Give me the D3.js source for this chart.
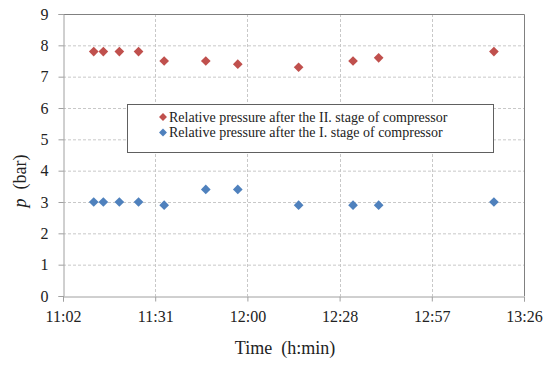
<!DOCTYPE html>
<html><head><meta charset="utf-8">
<script src="https://cdn.jsdelivr.net/npm/d3@7"></script>
<style>body{margin:0;background:#fff}svg{display:block}</style>
</head><body>
<svg id="c" width="550" height="367" font-family="Liberation Serif"></svg>
<script>
const times = ["11:12","11:15","11:20","11:26","11:34","11:47","11:57","12:16","12:33","12:41","13:17"];
const stage2 = [7.8,7.8,7.8,7.8,7.5,7.5,7.4,7.3,7.5,7.6,7.8];
const stage1 = [3.0,3.0,3.0,3.0,2.9,3.4,3.4,2.9,2.9,2.9,3.0];
const xTickLabels = ["11:02","11:31","12:00","12:28","12:57","13:26"];
const yTicks = [0,1,2,3,4,5,6,7,8,9];
const seriesNames = ["Relative pressure after the II. stage of compressor","Relative pressure after the I. stage of compressor"];
const colors = ["#C0504D","#4F81BD"];

const toMin = s => { const [h,m] = s.split(":").map(Number); return h*60+m; };
const xTickVals = [662.4, 691.2, 720, 748.8, 777.6, 806.4];

const svg = d3.select("#c");
const L=63, R=524, T=14, B=296;
const x = d3.scaleLinear().domain([662.4, 806.4]).range([L,R]);
const y = d3.scaleLinear().domain([0,9]).range([B,T]);
const font = '"Liberation Serif", serif';

// grid
const g = svg.append("g");
g.selectAll(".hg").data(yTicks.slice(1)).join("line")
  .attr("x1",L).attr("x2",R).attr("y1",d=>y(d)+0.5).attr("y2",d=>y(d)+0.5)
  .attr("stroke","#c8c8c8").attr("stroke-dasharray","3,2");
g.selectAll(".vg").data(xTickVals.slice(1,-1)).join("line")
  .attr("y1",T).attr("y2",B).attr("x1",d=>Math.round(x(d))+0.5).attr("x2",d=>Math.round(x(d))+0.5)
  .attr("stroke","#c8c8c8").attr("stroke-dasharray","3,2");

// border top/right
svg.append("path").attr("d",`M${L},${T+0.5}H${R+0.5}V${B}`).attr("fill","none").attr("stroke","#808080");

// axes
const yAxis = d3.axisLeft(y).tickValues(yTicks).tickSize(5).tickPadding(10).tickFormat(d3.format("d"));
const ya = svg.append("g").attr("transform",`translate(${L+0.5},0)`).call(yAxis);
const xAxis = d3.axisBottom(x).tickValues(xTickVals).tickSize(5).tickPadding(9).tickFormat((d,i)=>xTickLabels[i]);
const xa = svg.append("g").attr("transform",`translate(0,${B+0.5})`).call(xAxis);
[ya,xa].forEach(a=>{
  a.attr("font-family","Liberation Serif").attr("font-size",16);
  a.select(".domain").attr("stroke","#a0a0a0");
  a.selectAll(".tick line").attr("stroke","#a0a0a0");
  a.selectAll("text").attr("font-family","Liberation Serif").style("font-family",font).attr("font-size",16).attr("fill","#222");
});

// points
const diamond = d3.symbol().type(d3.symbolDiamond2).size(60);
[stage2, stage1].forEach((vals,si)=>{
  svg.append("g").selectAll("path").data(vals).join("path")
    .attr("d",diamond)
    .attr("transform",(d,i)=>`translate(${x(toMin(times[i]))},${y(d)})`)
    .attr("fill",colors[si]);
});

// legend
const lg = svg.append("g");
lg.append("rect").attr("x",127.5).attr("y",104.5).attr("width",366).attr("height",48)
  .attr("fill","#fff").attr("stroke","#606060");
seriesNames.forEach((n,i)=>{
  const cy = 117 + i*15.5;
  lg.append("path").attr("d",d3.symbol().type(d3.symbolDiamond2).size(40)).attr("transform",`translate(163,${cy})`).attr("fill",colors[i]);
  lg.append("text").attr("x",169).attr("y",cy).attr("dy","0.35em").attr("font-family","Liberation Serif").style("font-family",font).attr("font-size",14).attr("fill","#222").text(n);
});

// axis titles
svg.append("text").attr("x",285).attr("y",348).attr("dy","0.35em").attr("text-anchor","middle")
  .attr("font-family","Liberation Serif").style("font-family",font).attr("font-size",18).attr("fill","#222").text("Time\u00A0 (h:min)");
const yt = svg.append("text").attr("transform","translate(20,181) rotate(-90)").attr("dy","0.35em").attr("text-anchor","middle")
  .attr("font-family","Liberation Serif").style("font-family",font).attr("font-size",18).attr("fill","#222");
yt.append("tspan").attr("font-style","italic").text("p");
yt.append("tspan").text("\u00A0 (bar)");
</script>
</body></html>
